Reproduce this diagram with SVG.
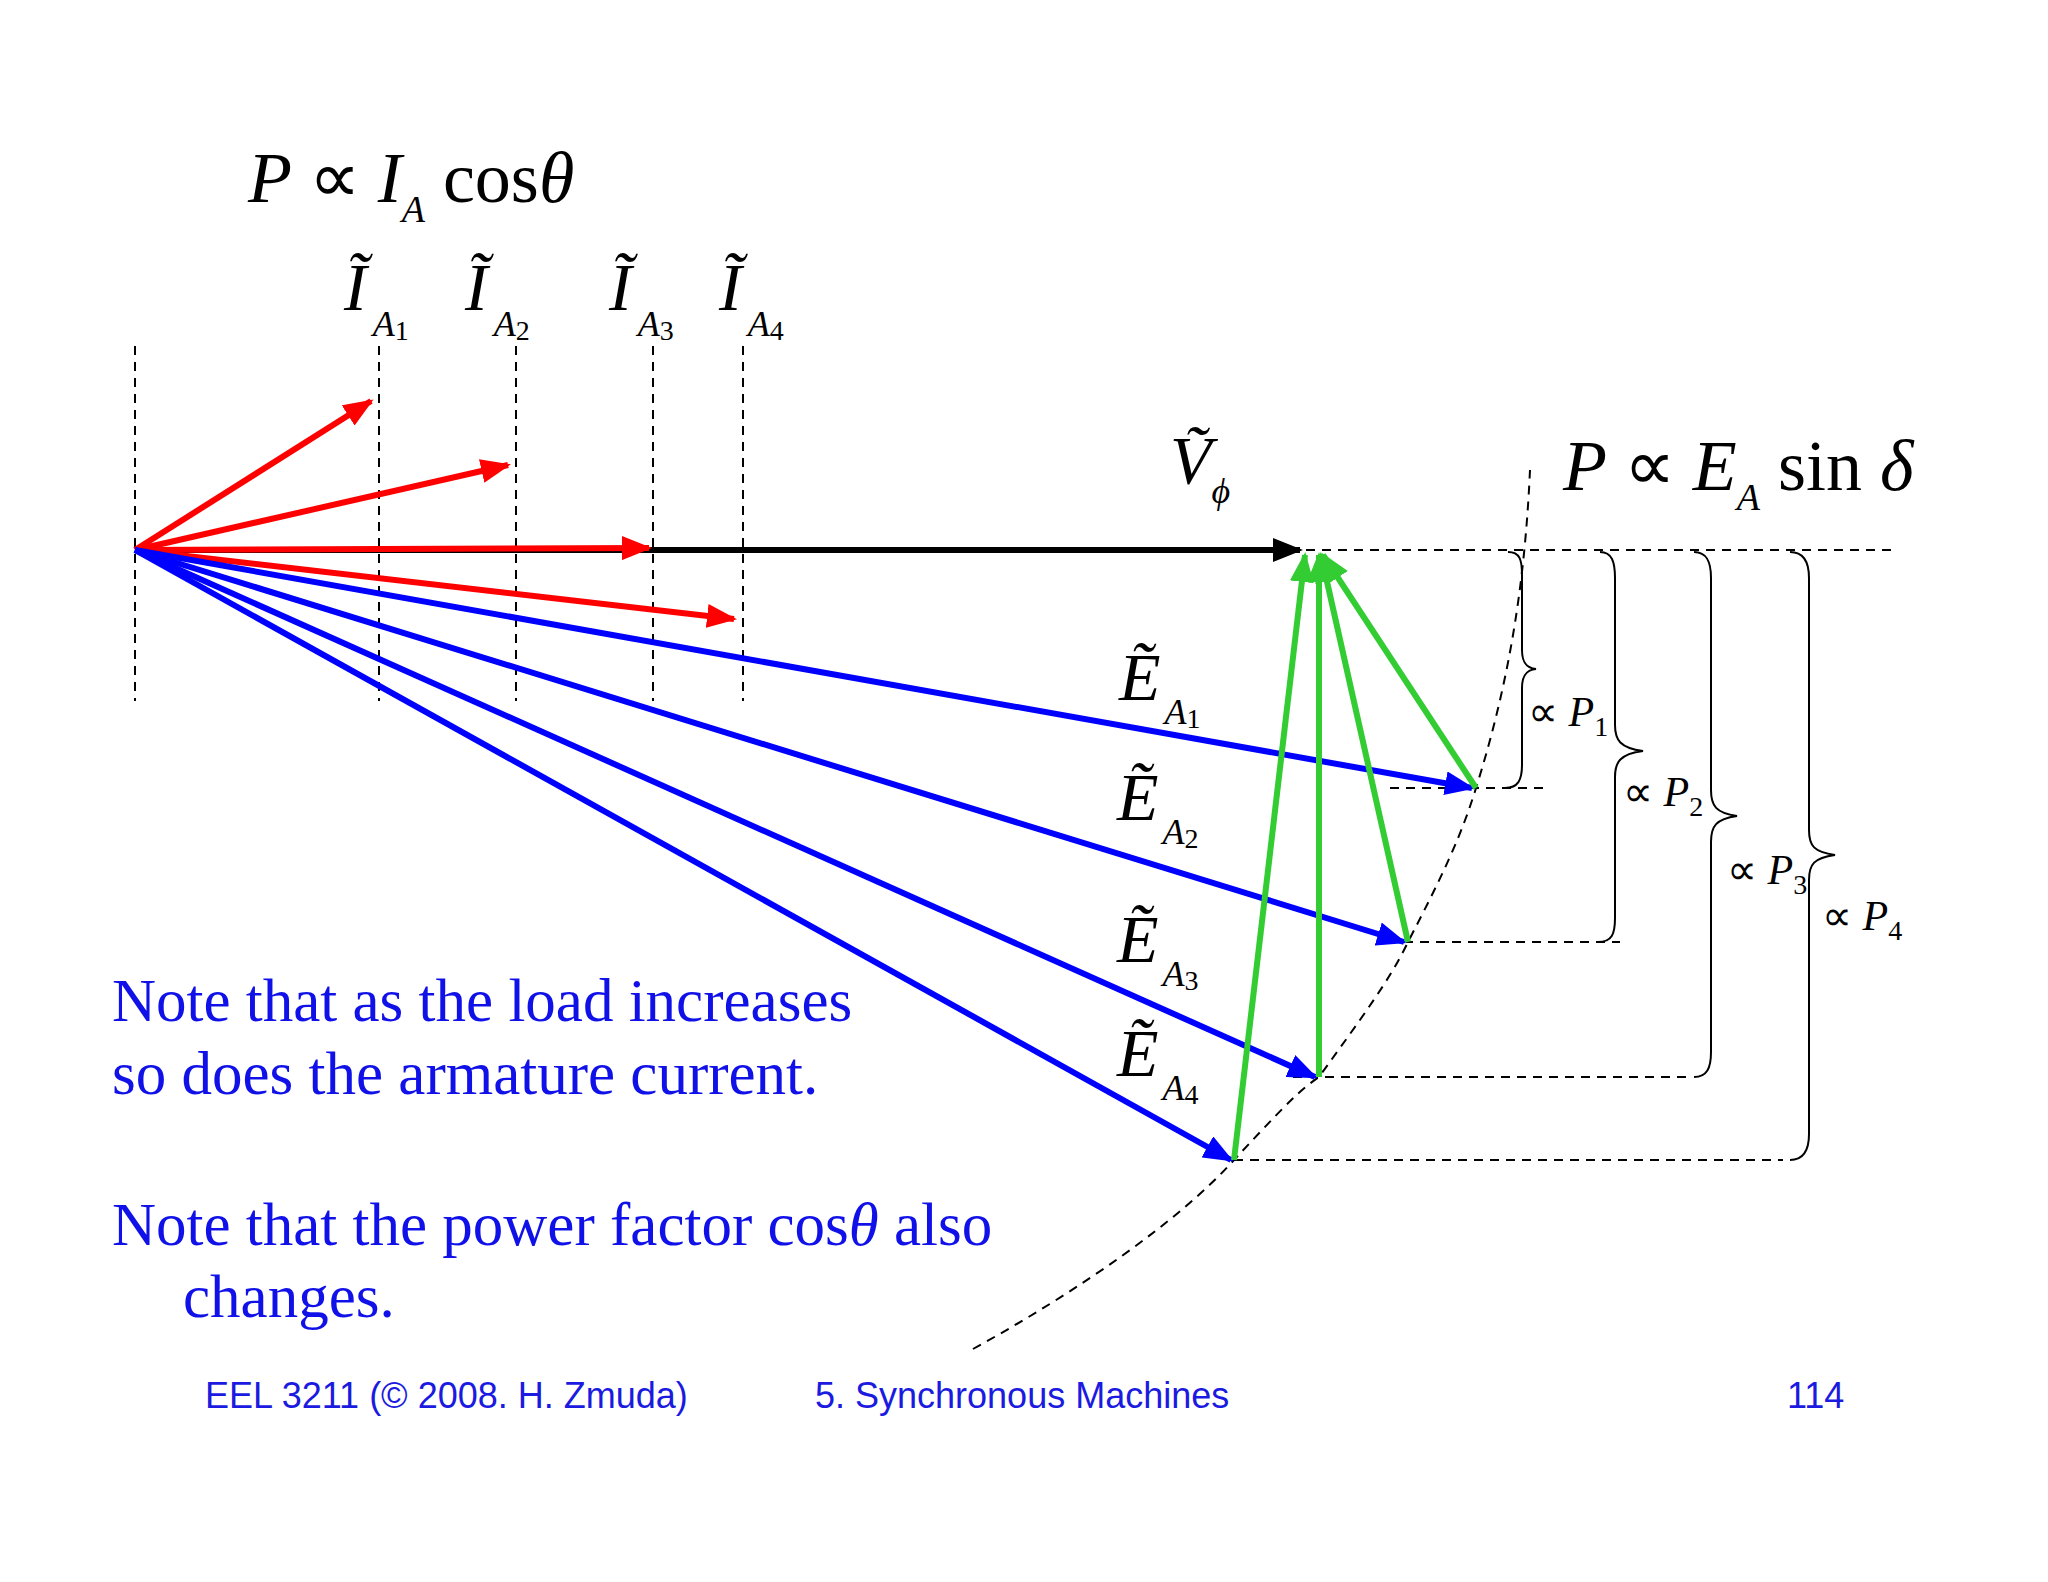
<svg xmlns="http://www.w3.org/2000/svg" width="2048" height="1582" viewBox="0 0 2048 1582">
<style>
.m{font-family:"Liberation Serif","Times New Roman",serif;font-style:italic;fill:#000}
.r{font-family:"Liberation Serif","Times New Roman",serif;fill:#000}
.note{font-family:"Liberation Serif","Times New Roman",serif;fill:#1010e8;font-size:61px}
.foot{font-family:"Liberation Sans",Arial,sans-serif;fill:#1a1ae0;font-size:36px}
.d{stroke:#000;stroke-width:2;stroke-dasharray:9 7;fill:none}
.br{stroke:#000;stroke-width:2;fill:none}
.red{stroke:#f00;stroke-width:6;marker-end:url(#ar)}
.blue{stroke:#00f;stroke-width:6;marker-end:url(#ab)}
.green{stroke:#33cc33;stroke-width:6;marker-end:url(#ag)}
</style>
<defs>
<marker id="ar" markerWidth="5" markerHeight="4" refX="4.5" refY="2" orient="auto" markerUnits="strokeWidth"><path d="M0,0L5,2L0,4z" fill="#f00"/></marker>
<marker id="ab" markerWidth="5" markerHeight="4" refX="4.5" refY="2" orient="auto" markerUnits="strokeWidth"><path d="M0,0L5,2L0,4z" fill="#00f"/></marker>
<marker id="ag" markerWidth="5" markerHeight="4" refX="4.5" refY="2" orient="auto" markerUnits="strokeWidth"><path d="M0,0L5,2L0,4z" fill="#33cc33"/></marker>
<marker id="ak" markerWidth="5" markerHeight="4" refX="4.5" refY="2" orient="auto" markerUnits="strokeWidth"><path d="M0,0L5,2L0,4z" fill="#000"/></marker>
</defs>
<rect width="2048" height="1582" fill="#fff"/>
<g id="guides">
<path class="d" d="M135,346V701M379,346V701M516,346V701M653,346V701M743,346V701"/>
<path class="d" d="M1306,550H1894M1390,788H1548M1404,942H1620M1293,1077H1691M1234,1160H1783"/>
<path class="d" d="M973,1349C1080,1290 1180,1220 1234,1160C1290,1100 1300,1090 1319,1077C1360,1020 1390,980 1408,942C1440,880 1460,840 1476,788C1510,680 1525,580 1530,470"/>
</g>
<g id="connectors">
<line x1="135" y1="550" x2="1300" y2="550" stroke="#000" stroke-width="6" marker-end="url(#ak)"/>
<line class="red" x1="135" y1="550" x2="371" y2="401"/>
<line class="red" x1="135" y1="550" x2="508" y2="465"/>
<line class="red" x1="135" y1="550" x2="649" y2="548"/>
<line class="red" x1="135" y1="550" x2="734" y2="619"/>
<line class="blue" x1="135" y1="550" x2="1472" y2="788"/>
<line class="blue" x1="135" y1="550" x2="1404" y2="942"/>
<line class="blue" x1="135" y1="550" x2="1315" y2="1077"/>
<line class="blue" x1="135" y1="550" x2="1231" y2="1160"/>
<line class="green" x1="1234" y1="1160" x2="1305" y2="555"/>
<line class="green" x1="1319" y1="1077" x2="1319" y2="555"/>
<line class="green" x1="1408" y1="942" x2="1321" y2="555"/>
<line class="green" x1="1476" y1="788" x2="1323" y2="555"/>
</g>
<g id="braces">
<path class="br" d="M1508,552C1520,552 1522,560 1522,575V650C1522,662 1526,668 1536,669C1526,670 1522,676 1522,688V765C1522,780 1518,788 1505,788"/>
<path class="br" d="M1600,552C1612,552 1615,562 1615,578V725C1615,740 1620,748 1643,751C1620,754 1615,762 1615,777V918C1615,934 1612,942 1598,942"/>
<path class="br" d="M1694,552C1707,552 1711,562 1711,578V790C1711,806 1716,813 1737,816C1716,819 1711,826 1711,842V1052C1711,1068 1707,1077 1694,1077"/>
<path class="br" d="M1790,552C1804,552 1809,562 1809,578V830C1809,846 1814,852 1835,855C1814,858 1809,864 1809,880V1134C1809,1150 1804,1160 1790,1160"/>
</g>
<g id="labels">
<text class="m" x="248" y="202" font-size="72">P <tspan class="r" font-style="normal">∝</tspan> I<tspan font-size="38" dy="20">A</tspan><tspan class="r" font-style="normal" dy="-20"> cos</tspan>θ</text>
<text class="m" x="1563" y="490" font-size="72">P <tspan font-style="normal">∝</tspan> E<tspan font-size="38" dy="20">A</tspan><tspan font-style="normal" dy="-20"> sin </tspan>δ</text>
<text class="m" x="344" y="310" font-size="68">Ĩ<tspan font-size="36" dx="6" dy="26">A</tspan><tspan font-size="28" font-style="normal" dy="4">1</tspan></text>
<text class="m" x="465" y="310" font-size="68">Ĩ<tspan font-size="36" dx="6" dy="26">A</tspan><tspan font-size="28" font-style="normal" dy="4">2</tspan></text>
<text class="m" x="609" y="310" font-size="68">Ĩ<tspan font-size="36" dx="6" dy="26">A</tspan><tspan font-size="28" font-style="normal" dy="4">3</tspan></text>
<text class="m" x="719" y="310" font-size="68">Ĩ<tspan font-size="36" dx="6" dy="26">A</tspan><tspan font-size="28" font-style="normal" dy="4">4</tspan></text>
<text class="m" x="1170" y="483" font-size="68">Ṽ<tspan font-size="36" dy="20">ϕ</tspan></text>
<text class="m" x="1119" y="700" font-size="68">Ẽ<tspan font-size="36" dx="4" dy="24">A</tspan><tspan font-size="28" font-style="normal" dy="4">1</tspan></text>
<text class="m" x="1117" y="820" font-size="68">Ẽ<tspan font-size="36" dx="4" dy="24">A</tspan><tspan font-size="28" font-style="normal" dy="4">2</tspan></text>
<text class="m" x="1117" y="962" font-size="68">Ẽ<tspan font-size="36" dx="4" dy="24">A</tspan><tspan font-size="28" font-style="normal" dy="4">3</tspan></text>
<text class="m" x="1117" y="1076" font-size="68">Ẽ<tspan font-size="36" dx="4" dy="24">A</tspan><tspan font-size="28" font-style="normal" dy="4">4</tspan></text>
<text class="m" x="1528" y="726" font-size="42"><tspan font-style="normal">∝</tspan> P<tspan font-size="28" font-style="normal" dy="10">1</tspan></text>
<text class="m" x="1623" y="806" font-size="42"><tspan font-style="normal">∝</tspan> P<tspan font-size="28" font-style="normal" dy="10">2</tspan></text>
<text class="m" x="1727" y="884" font-size="42"><tspan font-style="normal">∝</tspan> P<tspan font-size="28" font-style="normal" dy="10">3</tspan></text>
<text class="m" x="1822" y="930" font-size="42"><tspan font-style="normal">∝</tspan> P<tspan font-size="28" font-style="normal" dy="10">4</tspan></text>
<text class="note" x="112" y="1021">Note that as the load increases</text>
<text class="note" x="112" y="1094">so does the armature current.</text>
<text class="note" x="112" y="1245">Note that the power factor cos<tspan font-style="italic">θ</tspan>  also</text>
<text class="note" x="183" y="1317">changes.</text>
<text class="foot" x="205" y="1408">EEL 3211 (© 2008. H. Zmuda)</text>
<text class="foot" x="815" y="1408">5. Synchronous Machines</text>
<text class="foot" x="1787" y="1408">114</text>
</g>
</svg>
